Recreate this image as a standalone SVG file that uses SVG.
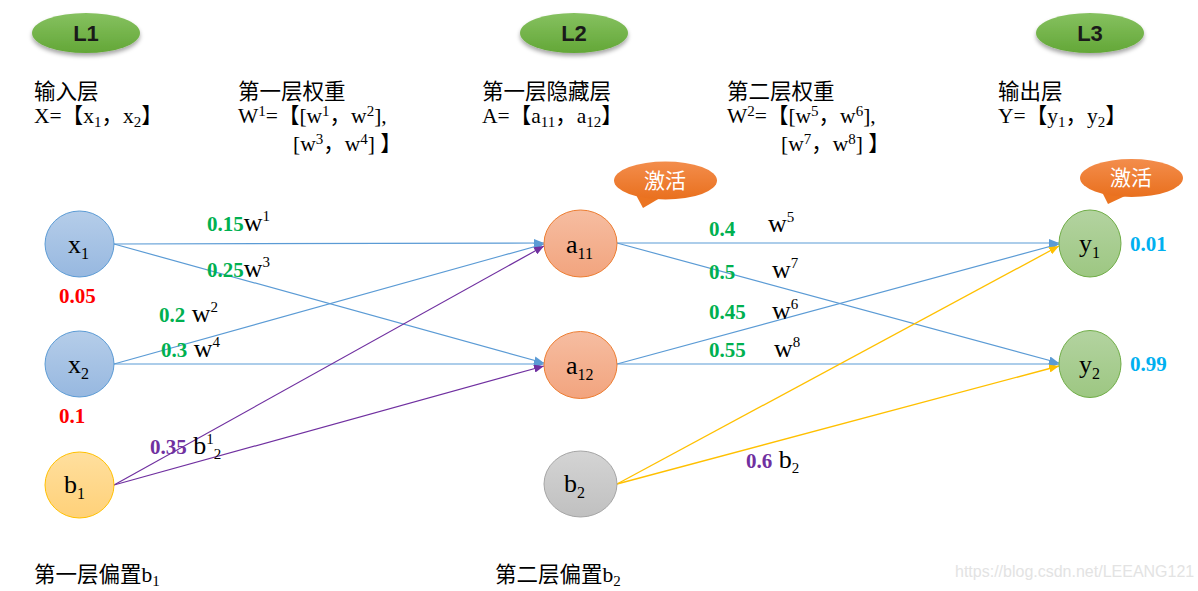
<svg xmlns="http://www.w3.org/2000/svg" width="1198" height="591" viewBox="0 0 1198 591">
<style>
.t{font-family:"Liberation Serif","Noto Sans CJK SC",serif;fill:#000;}
.h{font-size:21.5px;}
.nl{font-size:26px;}
.ns{font-size:16px;}
.wl{font-size:26px;}
.sp{font-size:15px;}
.num{font-family:"Liberation Serif",serif;font-weight:bold;font-size:21px;}
.g{fill:#00b050;}
.r{fill:#ff0000;}
.p{fill:#7030a0;}
.c{fill:#00b0f0;}
.lay{font-family:"Liberation Sans","DejaVu Sans",sans-serif;font-weight:bold;font-size:22px;fill:#1a1a1a;text-anchor:middle;}
.act{font-family:"Noto Sans CJK SC",sans-serif;font-size:21px;fill:#fff;text-anchor:middle;}
.cb{stroke:#5b9bd5;stroke-width:1.2;fill:none;}
.cp{stroke:#7030a0;stroke-width:1.2;fill:none;}
.cy{stroke:#ffc000;stroke-width:1.3;fill:none;}
</style>
<defs>
<linearGradient id="gB" x1="0" y1="0" x2="0" y2="1"><stop offset="0" stop-color="#b5cde9"/><stop offset="1" stop-color="#97b8e0"/></linearGradient>
<linearGradient id="gO" x1="0" y1="0" x2="0" y2="1"><stop offset="0" stop-color="#f6bda1"/><stop offset="1" stop-color="#f2a47e"/></linearGradient>
<linearGradient id="gY" x1="0" y1="0" x2="0" y2="1"><stop offset="0" stop-color="#ffdf9e"/><stop offset="1" stop-color="#ffd179"/></linearGradient>
<linearGradient id="gG" x1="0" y1="0" x2="0" y2="1"><stop offset="0" stop-color="#d4d4d4"/><stop offset="1" stop-color="#c0c0c0"/></linearGradient>
<linearGradient id="gN" x1="0" y1="0" x2="0" y2="1"><stop offset="0" stop-color="#b3d3a0"/><stop offset="1" stop-color="#9dc782"/></linearGradient>
<linearGradient id="gL" x1="0" y1="0" x2="0" y2="1"><stop offset="0" stop-color="#86c160"/><stop offset="1" stop-color="#63a737"/></linearGradient>
<linearGradient id="gA" x1="0" y1="0" x2="0" y2="1"><stop offset="0" stop-color="#f38d4c"/><stop offset="1" stop-color="#e9701e"/></linearGradient>
<filter id="sh" x="-20%" y="-30%" width="140%" height="170%"><feDropShadow dx="0" dy="3" stdDeviation="2" flood-color="#000" flood-opacity="0.35"/></filter>
<marker id="aB" markerWidth="10" markerHeight="8" refX="10" refY="4" orient="auto" markerUnits="userSpaceOnUse"><path d="M0,0 L10,4 L0,8 z" fill="#5b9bd5"/></marker>
<marker id="aP" markerWidth="10" markerHeight="8" refX="10" refY="4" orient="auto" markerUnits="userSpaceOnUse"><path d="M0,0 L10,4 L0,8 z" fill="#7030a0"/></marker>
<marker id="aY" markerWidth="10" markerHeight="8" refX="10" refY="4" orient="auto" markerUnits="userSpaceOnUse"><path d="M0,0 L10,4 L0,8 z" fill="#ffc000"/></marker>
</defs>
<rect width="1198" height="591" fill="#fff"/>

<g id="layer-labels">
<g id="L1"><ellipse cx="86" cy="33" rx="54" ry="20" fill="url(#gL)" filter="url(#sh)"/><text class="lay" x="86" y="41">L1</text></g>
<g id="L2"><ellipse cx="574" cy="33" rx="54" ry="20" fill="url(#gL)" filter="url(#sh)"/><text class="lay" x="574" y="41">L2</text></g>
<g id="L3"><ellipse cx="1090" cy="33" rx="54" ry="20" fill="url(#gL)" filter="url(#sh)"/><text class="lay" x="1090" y="41">L3</text></g>
</g>

<g id="headers">
<text class="t h" x="34" y="99">输入层</text>
<text class="t h" x="34" y="123">X=【x<tspan class="sp" dy="4">1</tspan><tspan dy="-4">，x</tspan><tspan class="sp" dy="4">2</tspan><tspan dy="-4">】</tspan></text>
<text class="t h" x="238" y="99">第一层权重</text>
<text class="t h" x="238" y="123">W<tspan class="sp" dy="-7">1</tspan><tspan dy="7">=【[w</tspan><tspan class="sp" dy="-7">1</tspan><tspan dy="7">，w</tspan><tspan class="sp" dy="-7">2</tspan><tspan dy="7">],</tspan></text>
<text class="t h" x="293" y="151">[w<tspan class="sp" dy="-7">3</tspan><tspan dy="7">，w</tspan><tspan class="sp" dy="-7">4</tspan><tspan dy="7">] 】</tspan></text>
<text class="t h" x="482" y="99">第一层隐藏层</text>
<text class="t h" x="482" y="123">A=【a<tspan class="sp" dy="4">11</tspan><tspan dy="-4">，a</tspan><tspan class="sp" dy="4">12</tspan><tspan dy="-4">】</tspan></text>
<text class="t h" x="727" y="99">第二层权重</text>
<text class="t h" x="727" y="123">W<tspan class="sp" dy="-7">2</tspan><tspan dy="7">=【[w</tspan><tspan class="sp" dy="-7">5</tspan><tspan dy="7">，w</tspan><tspan class="sp" dy="-7">6</tspan><tspan dy="7">],</tspan></text>
<text class="t h" x="781" y="151">[w<tspan class="sp" dy="-7">7</tspan><tspan dy="7">，w</tspan><tspan class="sp" dy="-7">8</tspan><tspan dy="7">] 】</tspan></text>
<text class="t h" x="998" y="99">输出层</text>
<text class="t h" x="998" y="123">Y=【y<tspan class="sp" dy="4">1</tspan><tspan dy="-4">，y</tspan><tspan class="sp" dy="4">2</tspan><tspan dy="-4">】</tspan></text>
<text class="t h" x="34" y="582">第一层偏置b<tspan class="sp" dy="4">1</tspan></text>
<text class="t h" x="495" y="582">第二层偏置b<tspan class="sp" dy="4">2</tspan></text>
</g>

<g id="connectors">
<line class="cb" x1="114" y1="244" x2="544" y2="243" marker-end="url(#aB)"/>
<line class="cb" x1="114" y1="244" x2="544" y2="363" marker-end="url(#aB)"/>
<line class="cb" x1="114" y1="364" x2="544" y2="244" marker-end="url(#aB)"/>
<line class="cb" x1="114" y1="364" x2="544" y2="364" marker-end="url(#aB)"/>
<line class="cp" x1="114" y1="485" x2="544" y2="246" marker-end="url(#aP)"/>
<line class="cp" x1="114" y1="485" x2="544" y2="366" marker-end="url(#aP)"/>
<line class="cb" x1="617" y1="243" x2="1059" y2="243" marker-end="url(#aB)"/>
<line class="cb" x1="617" y1="243" x2="1059" y2="363" marker-end="url(#aB)"/>
<line class="cb" x1="617" y1="364" x2="1059" y2="244" marker-end="url(#aB)"/>
<line class="cb" x1="617" y1="364" x2="1059" y2="364" marker-end="url(#aB)"/>
<line class="cy" x1="617" y1="484" x2="1059" y2="246" marker-end="url(#aY)"/>
<line class="cy" x1="617" y1="484" x2="1059" y2="366" marker-end="url(#aY)"/>
</g>

<g id="edge-labels">
<text class="t wl" x="207" y="231"><tspan class="num g">0.15</tspan>w<tspan class="sp" dy="-10">1</tspan></text>
<text class="t wl" x="207" y="277"><tspan class="num g">0.25</tspan>w<tspan class="sp" dy="-10">3</tspan></text>
<text class="t wl" x="159" y="322"><tspan class="num g">0.2</tspan> w<tspan class="sp" dy="-10">2</tspan></text>
<text class="t wl" x="161" y="357"><tspan class="num g">0.3</tspan> w<tspan class="sp" dy="-10">4</tspan></text>
<text class="t wl" x="150" y="454"><tspan class="num p">0.35</tspan> b<tspan class="sp" dy="-10">1</tspan><tspan class="sp" dy="15">2</tspan></text>
<text class="num g" x="709" y="236">0.4</text><text class="t wl" x="768" y="232">w<tspan class="sp" dy="-10">5</tspan></text>
<text class="num g" x="709" y="279">0.5</text><text class="t wl" x="772" y="278">w<tspan class="sp" dy="-10">7</tspan></text>
<text class="num g" x="709" y="319">0.45</text><text class="t wl" x="772" y="319">w<tspan class="sp" dy="-10">6</tspan></text>
<text class="num g" x="709" y="357">0.55</text><text class="t wl" x="774" y="357">w<tspan class="sp" dy="-10">8</tspan></text>
<text class="t wl" x="746" y="468"><tspan class="num p">0.6</tspan> b<tspan class="sp" dy="5">2</tspan></text>
<text class="num r" x="59" y="303">0.05</text>
<text class="num r" x="59" y="423">0.1</text>
<text class="num c" x="1130" y="251">0.01</text>
<text class="num c" x="1130" y="371">0.99</text>
</g>

<g id="x1"><ellipse cx="79.5" cy="244" rx="34.5" ry="33" fill="url(#gB)" stroke="#5b9bd5" stroke-width="1"/><text class="t nl" x="68" y="253">x<tspan class="ns" dy="6">1</tspan></text></g>
<g id="x2"><ellipse cx="79.5" cy="364" rx="34.5" ry="33" fill="url(#gB)" stroke="#5b9bd5" stroke-width="1"/><text class="t nl" x="68" y="373">x<tspan class="ns" dy="6">2</tspan></text></g>
<g id="b1"><ellipse cx="79.5" cy="485" rx="34.5" ry="33" fill="url(#gY)" stroke="#ffc000" stroke-width="1"/><text class="t nl" x="64" y="493">b<tspan class="ns" dy="6">1</tspan></text></g>
<g id="a11"><ellipse cx="580.5" cy="243.5" rx="36.5" ry="33.5" fill="url(#gO)" stroke="#ed7d31" stroke-width="1"/><text class="t nl" x="566" y="253">a<tspan class="ns" dy="6">11</tspan></text></g>
<g id="a12"><ellipse cx="580.5" cy="365" rx="36.5" ry="33.5" fill="url(#gO)" stroke="#ed7d31" stroke-width="1"/><text class="t nl" x="566" y="374">a<tspan class="ns" dy="6">12</tspan></text></g>
<g id="b2"><ellipse cx="580.5" cy="484" rx="36.5" ry="33" fill="url(#gG)" stroke="#a5a5a5" stroke-width="1"/><text class="t nl" x="564" y="492">b<tspan class="ns" dy="6">2</tspan></text></g>
<g id="y1"><ellipse cx="1090" cy="243.5" rx="31" ry="33.5" fill="url(#gN)" stroke="#70ad47" stroke-width="1"/><text class="t nl" x="1079" y="252">y<tspan class="ns" dy="6">1</tspan></text></g>
<g id="y2"><ellipse cx="1090" cy="364" rx="31" ry="33.5" fill="url(#gN)" stroke="#70ad47" stroke-width="1"/><text class="t nl" x="1079" y="373">y<tspan class="ns" dy="6">2</tspan></text></g>

<g id="callout-1"><path d="M636,195 L643,208 L660,198 Z" fill="#eb7421"/><ellipse cx="665.5" cy="180.5" rx="51.5" ry="19" fill="url(#gA)"/><text class="act" x="665" y="188">激活</text></g>
<g id="callout-2"><path d="M1102,192 L1108,204 L1125,196 Z" fill="#eb7421"/><ellipse cx="1131.5" cy="178" rx="51.5" ry="19" fill="url(#gA)"/><text class="act" x="1131" y="185">激活</text></g>

<text x="955" y="577" font-family="Liberation Sans, sans-serif" font-size="16" fill="#e3e3e3">https://blog.csdn.net/LEEANG121</text>
</svg>
